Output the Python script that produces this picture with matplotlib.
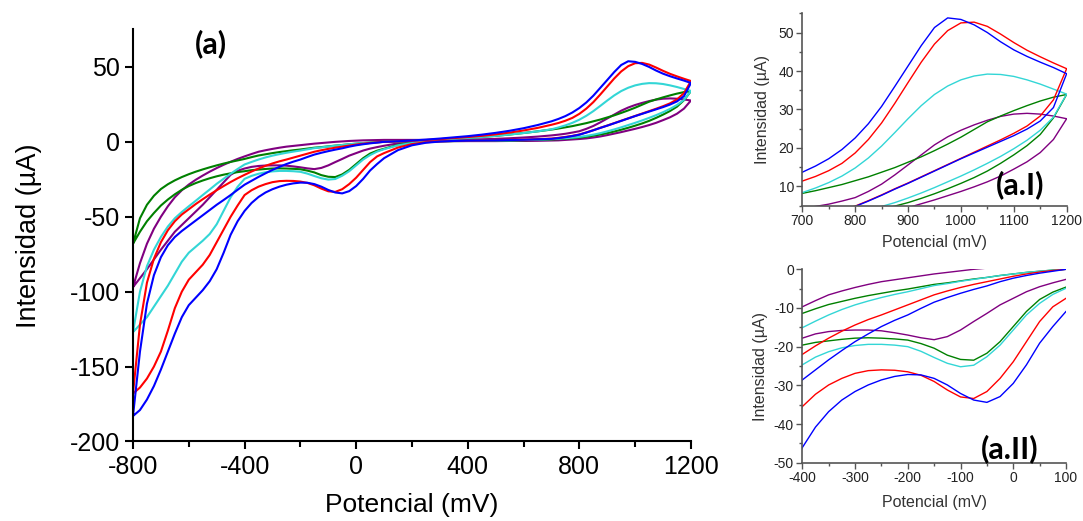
import numpy as np
import matplotlib
matplotlib.use("Agg")
import matplotlib.pyplot as plt
from matplotlib.ticker import MultipleLocator

plt.rcParams['font.family'] = ['Liberation Sans', 'DejaVu Sans']
plt.rcParams['axes.unicode_minus'] = False

# potential grid (mV), shared by every branch
E = [-800, -775, -750, -725, -700, -675, -650, -625, -600, -575, -550, -525, -500, -475, -450, -425,
     -400, -375, -350, -325, -300, -275, -250, -225, -200, -175, -150,
     -125, -100, -75, -50, -25, 0, 25, 50, 75, 100,
     150, 200, 250, 300, 350, 400, 450, 500, 550, 600, 650,
     700, 725, 750, 775, 800, 825, 850, 875, 900, 925, 950, 975, 1000,
     1025, 1050, 1075, 1100, 1125, 1150, 1175, 1200]

# current (uA): forward (anodic) and reverse (cathodic) branch of each CV
blue_fwd = [-183, -140, -108, -89, -77, -69, -63.5, -59.5, -56, -52.5, -49, -45.5, -42, -38.8, -35.5, -32,
            -28.6, -26.0, -23.4, -21.0, -18.7, -16.7, -14.8, -13.2, -11.8, -10.1, -8.5,
            -7.3, -6.2, -5.2, -4.3, -3.2, -2.3, -1.6, -1.0, -0.5, 0.0,
            0.4, 0.9, 1.5, 2.2, 3.0, 3.8, 4.8, 6.0, 7.4, 9.1, 11.2,
            13.7, 15.3, 17.2, 19.6, 22.6, 26.3, 30.8, 36.0, 41.3, 46.6, 51.3, 53.8, 53.4,
            52.0, 50.0, 47.6, 45.5, 43.8, 42.3, 40.9, 39.3]
blue_rev = [-183, -179, -172, -163, -152, -140, -128, -117, -109, -104, -99, -93, -85, -74, -62, -53,
            -46.1, -40.8, -36.8, -33.8, -31.6, -29.9, -28.6, -27.7, -27.2, -27.3, -28.2,
            -29.9, -32.1, -33.8, -34.4, -32.9, -29.5, -24.7, -19.1, -14.8, -10.9,
            -5.5, -2.3, -0.6, 0.2, 0.6, 0.8, 0.9, 1.0, 1.2, 1.4, 1.7,
            2.0, 2.5, 3.1, 3.9, 4.8, 6.2, 7.7, 9.3, 10.8, 12.4, 14.0, 15.6, 17.2,
            18.7, 20.2, 21.7, 23.2, 24.9, 27.0, 30.5, 39.3]

red_fwd = [-168, -122, -94, -78, -67, -59, -53, -48.5, -45, -41.5, -38.3, -35.2, -32.3, -29.5, -26.8, -24.3,
           -22.0, -19.8, -17.8, -16.0, -14.4, -13.0, -11.8, -10.5, -9.2, -7.9, -6.6,
           -5.6, -4.7, -3.9, -3.2, -2.5, -1.8, -1.2, -0.7, -0.3, 0.0,
           0.3, 0.7, 1.2, 1.8, 2.5, 3.2, 4.0, 5.0, 6.2, 7.6, 9.3,
           11.4, 12.6, 14.1, 16.0, 18.7, 22.2, 26.5, 31.6, 37.0, 42.3, 47.0, 50.5, 52.5,
           52.7, 51.6, 49.6, 47.4, 45.4, 43.7, 42.1, 40.6]
red_rev = [-168, -164, -158, -150, -140, -126, -111, -100, -92, -87, -82, -75.5, -67, -58.5, -50, -42.5,
           -35.5, -32.3, -29.9, -28.2, -26.9, -26.2, -26.0, -26.1, -26.5, -27.4, -29.0,
           -31.2, -33.0, -33.4, -31.6, -28.2, -23.9, -18.7, -13.5, -9.7, -7.5,
           -3.8, -1.5, -0.3, 0.3, 0.6, 0.8, 0.9, 1.1, 1.3, 1.5, 1.8,
           2.2, 2.7, 3.3, 4.0, 4.9, 6.3, 7.8, 9.4, 10.9, 12.5, 14.1, 15.7, 17.3,
           18.9, 20.5, 22.1, 23.8, 25.7, 28.3, 32.5, 40.6]

cyan_fwd = [-127, -100, -83, -72, -63.5, -56.5, -51, -46.8, -43, -39.3, -35.5, -31.8, -28, -24.6, -21.3, -18.1,
            -15.1, -13.4, -11.8, -10.4, -9.2, -8.2, -7.3, -6.5, -5.8, -5.0, -4.2,
            -3.7, -3.1, -2.6, -2.1, -1.6, -1.2, -0.8, -0.5, -0.2, 0.0,
            0.3, 0.6, 1.0, 1.5, 2.0, 2.6, 3.3, 4.0, 4.9, 5.9, 7.0,
            8.4, 9.6, 11.0, 12.7, 14.8, 17.4, 20.5, 24.0, 27.6, 31.0, 33.9, 36.1, 37.7,
            38.7, 39.2, 39.1, 38.6, 37.7, 36.6, 35.3, 34.0]
cyan_rev = [-127, -122, -117, -110, -103, -96, -88, -80, -74, -70, -66, -61.5, -55, -46, -37, -30,
            -24.7, -22.7, -21.3, -20.3, -19.7, -19.4, -19.4, -19.6, -20.0, -21.2, -22.8,
            -24.3, -25.2, -24.8, -22.6, -19.6, -15.7, -11.8, -8.8, -6.5, -4.9,
            -2.3, -0.8, 0.0, 0.4, 0.6, 0.7, 0.8, 0.9, 1.0, 1.2, 1.5,
            1.8, 2.1, 2.4, 2.8, 3.3, 4.0, 4.8, 5.8, 7.0, 8.3, 9.7, 11.2, 12.7,
            14.3, 16.0, 17.8, 19.8, 22.0, 24.6, 28.0, 34.0]

green_fwd = [-68, -51, -42, -36, -31.5, -28.3, -25.7, -23.5, -21.6, -19.9, -18.4, -17, -15.7, -14.5, -13.4, -12.4,
             -11.4, -10.2, -9.1, -8.3, -7.5, -6.8, -6.2, -5.6, -5.1, -4.5, -3.9,
             -3.5, -3.0, -2.5, -2.1, -1.6, -1.2, -0.8, -0.5, -0.2, 0.0,
             0.3, 0.6, 1.0, 1.5, 2.0, 2.6, 3.3, 4.0, 4.9, 5.9, 7.0,
             8.2, 8.9, 9.7, 10.5, 11.5, 12.5, 13.7, 14.9, 16.3, 17.7, 19.3, 21.0, 22.8,
             24.8, 26.8, 28.3, 29.7, 31.0, 32.2, 33.2, 33.9]
green_rev = [-68, -60, -53, -47.5, -42.5, -38.5, -35, -32, -29.5, -27.5, -25.8, -24.3, -23, -21.9, -21, -20.2,
             -19.6, -18.9, -18.5, -18.1, -17.8, -17.7, -17.8, -18.0, -18.3, -19.2, -20.4,
             -22.2, -23.3, -23.5, -21.7, -18.7, -14.8, -10.9, -7.8, -5.9, -4.6,
             -2.0, -0.6, 0.1, 0.4, 0.5, 0.6, 0.7, 0.8, 0.9, 1.1, 1.3,
             1.6, 1.8, 2.1, 2.5, 2.9, 3.4, 4.1, 4.9, 5.8, 6.9, 8.1, 9.4, 10.8,
             12.3, 14.0, 16.0, 18.2, 20.6, 23.5, 27.8, 33.9]

purple_fwd = [-97, -81, -68, -58, -50, -43, -37, -32.3, -28.5, -25.3, -22.5, -19.9, -17.5, -15.3, -13.3, -11.4,
              -9.7, -8.1, -6.6, -5.6, -4.7, -3.9, -3.2, -2.7, -2.2, -1.7, -1.2,
              -0.8, -0.4, 0.0, 0.3, 0.6, 0.8, 1.0, 1.1, 1.2, 1.3,
              1.3, 1.3, 1.3, 1.3, 1.4, 1.5, 1.7, 2.0, 2.4, 2.9, 3.5,
              4.3, 4.8, 5.4, 6.2, 7.1, 8.7, 10.6, 13.0, 15.6, 18.2, 20.8, 22.9, 24.6,
              26.0, 27.2, 28.2, 28.8, 29.0, 28.8, 28.3, 27.6]
purple_rev = [-97, -91, -85, -78.5, -72, -66, -60, -55.5, -51, -46.5, -42, -37, -32, -27, -22, -19.3,
              -17.8, -16.7, -16.1, -15.8, -15.7, -15.7, -15.9, -16.4, -17.0, -17.7, -18.2,
              -17.4, -15.7, -13.5, -11.4, -9.2, -7.5, -5.8, -4.5, -3.5, -2.6,
              -1.0, -0.1, 0.3, 0.5, 0.5, 0.5, 0.5, 0.5, 0.6, 0.6, 0.7,
              0.9, 1.0, 1.3, 1.6, 1.9, 2.3, 2.9, 3.6, 4.5, 5.5, 6.5, 7.6, 8.7,
              9.9, 11.2, 12.7, 14.5, 16.4, 18.8, 22.2, 27.6]

series = [
    (purple_fwd, purple_rev, '#800080'),
    (green_fwd, green_rev, '#008000'),
    (cyan_fwd, cyan_rev, '#33D6D6'),
    (red_fwd, red_rev, '#FF0000'),
    (blue_fwd, blue_rev, '#0000FF'),
]


def draw_cv(ax, lw):
    for fwd, rev, col in series:
        xs = E + E[::-1]
        ys = fwd + rev[::-1]
        ax.plot(xs, ys, color=col, lw=lw, solid_joinstyle='round')


fig = plt.figure(figsize=(10.83, 5.21), dpi=100)

# main panel
ax = fig.add_axes([0.1228, 0.1526, 0.5152, 0.7908])
draw_cv(ax, 1.5)
ax.set_xlim(-800, 1200)
ax.set_ylim(-200, 75)
ax.xaxis.set_major_locator(MultipleLocator(400))
ax.xaxis.set_minor_locator(MultipleLocator(200))
ax.yaxis.set_major_locator(MultipleLocator(50))
for s in ['top', 'right']:
    ax.spines[s].set_visible(False)
for s in ['left', 'bottom']:
    ax.spines[s].set_linewidth(1.5)
ax.tick_params(which='major', length=6, width=1.5, labelsize=18)
ax.tick_params(which='minor', length=4, width=1.5)
ax.set_xlabel('Potencial (mV)', fontsize=19, labelpad=10)
ax.set_ylabel('Intensidad (\u00b5A)', fontsize=19.5, labelpad=20)
ax.text(0.14, 0.965, '(a)', transform=ax.transAxes, fontsize=22,
        fontweight='bold', family=['Lato', 'DejaVu Sans'], ha='center', va='center')

# inset (a.I)
ax1 = fig.add_axes([0.7408, 0.6052, 0.2441, 0.3693])
draw_cv(ax1, 1.0)
ax1.set_xlim(700, 1200)
ax1.set_ylim(5, 55)
ax1.xaxis.set_major_locator(MultipleLocator(100))
ax1.xaxis.set_minor_locator(MultipleLocator(50))
ax1.yaxis.set_major_locator(MultipleLocator(10))
ax1.yaxis.set_minor_locator(MultipleLocator(5))
ax1.set_xlabel('Potencial (mV)', fontsize=11.5, color='#333333', labelpad=5)
ax1.set_ylabel('Intensidad (\u00b5A)', fontsize=11.5, color='#333333', labelpad=6)
ax1.text(0.823, 0.11, '(a.I)', transform=ax1.transAxes, fontsize=22,
         fontweight='bold', family=['Lato', 'DejaVu Sans'], ha='center', va='center')

# inset (a.II)
ax2 = fig.add_axes([0.7408, 0.1119, 0.2435, 0.3712])
draw_cv(ax2, 1.0)
ax2.set_xlim(-400, 100)
ax2.set_ylim(-50, 0)
ax2.xaxis.set_major_locator(MultipleLocator(100))
ax2.xaxis.set_minor_locator(MultipleLocator(50))
ax2.yaxis.set_major_locator(MultipleLocator(10))
ax2.yaxis.set_minor_locator(MultipleLocator(5))
ax2.set_xlabel('Potencial (mV)', fontsize=11.5, color='#333333', labelpad=7)
ax2.set_ylabel('Intensidad (\u00b5A)', fontsize=11.5, color='#333333', labelpad=4)
ax2.text(0.787, 0.075, '(a.II)', transform=ax2.transAxes, fontsize=22,
         fontweight='bold', family=['Lato', 'DejaVu Sans'], ha='center', va='center')

for a in (ax1, ax2):
    for s in ['top', 'right']:
        a.spines[s].set_visible(False)
    for s in ['left', 'bottom']:
        a.spines[s].set_color('#555555')
        a.spines[s].set_linewidth(1.2)
    a.tick_params(which='major', length=4, width=1, colors='#555555',
                  labelcolor='#222222', labelsize=10, pad=2)
    a.tick_params(which='minor', length=2.5, width=1, colors='#555555')

fig.savefig('out.png', dpi=100)
